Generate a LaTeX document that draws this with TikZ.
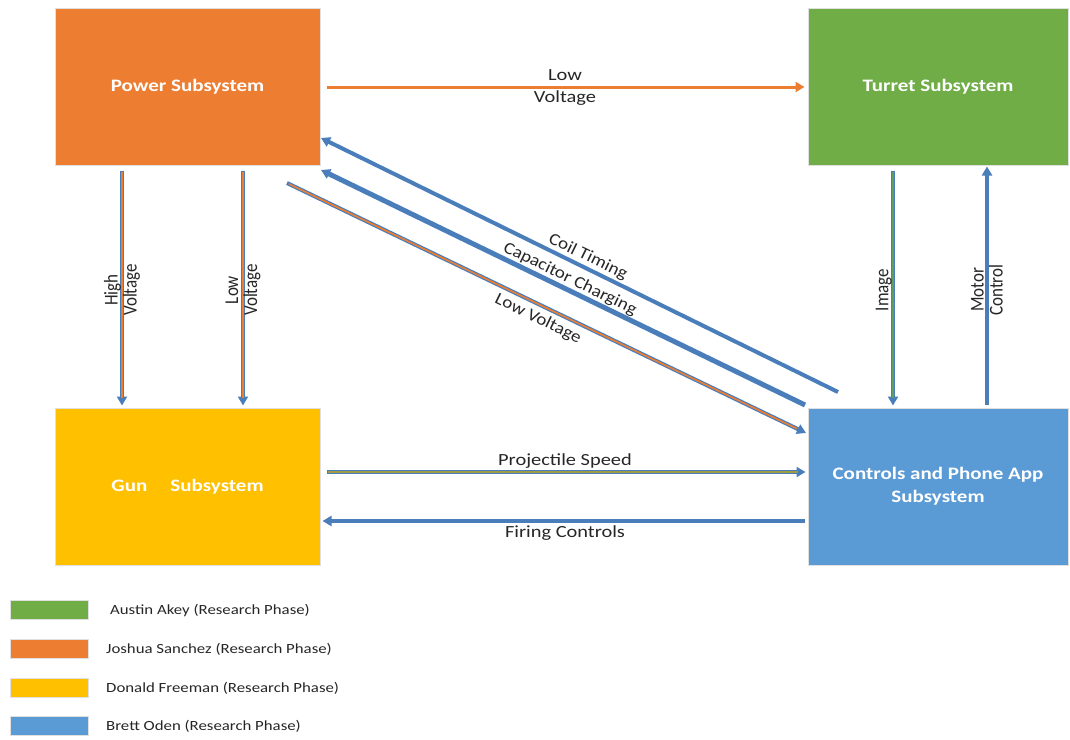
\documentclass[tikz,border=0pt]{standalone}
\usepackage{fontspec}
\setmainfont{Carlito}
\usetikzlibrary{arrows.meta,calc}
\definecolor{cOrange}{HTML}{ED7D31}
\definecolor{cGreen}{HTML}{70AD47}
\definecolor{cYellow}{HTML}{FFC000}
\definecolor{cBlue}{HTML}{5B9BD5}
\definecolor{lBlue}{HTML}{4A7EBB}
\definecolor{lOlive}{HTML}{A09A40}
\definecolor{lGreen}{HTML}{5E9E5E}
\definecolor{txt}{HTML}{262626}
\newcommand{\hst}[1]{\scalebox{1.2}[1]{#1}}
\newcommand{\dst}[1]{\scalebox{1.12}[1]{#1}}
\newcommand{\vst}[1]{\scalebox{1}[1.15]{#1}}
\tikzset{
  sub/.style={draw=black!12, line width=1pt, minimum width=265pt, minimum height=157pt, text=white, font=\fontsize{17.5}{23}\selectfont\bfseries, align=center, inner sep=0pt},
  lab/.style={text=txt, font=\fontsize{17}{19}\selectfont, align=center, inner sep=1pt},
  leg/.style={text=txt, font=\fontsize{14}{16}\selectfont, anchor=west, inner sep=0pt},
  swatch/.style={draw=black!12, line width=0.8pt, minimum width=78pt, minimum height=19pt, inner sep=0pt},
  bl/.style={draw=lBlue, line width=4pt, -{Triangle[length=9pt,width=10pt]}},
  inner/.style={line width=1.6pt},
}
\begin{document}
\begin{tikzpicture}[x=1pt,y=-1pt]
\useasboundingbox (0,0) rectangle (1070,739);
% boxes
\node[sub, fill=cOrange] (power) at (187.5,86.5) {\hst{Power Subsystem}};
\node[sub, fill=cGreen, minimum width=260pt] (turret) at (938,86.5) {\hst{Turret Subsystem}};
\node[sub, fill=cYellow] (gun) at (187.5,486.5) {\hst{Gun\hspace{1.1em}Subsystem}};
\node[sub, fill=cBlue, minimum width=260pt] (ctrl) at (938,486.5) {\hst{Controls and Phone App}\\\hst{Subsystem}};

% top: Power -> Turret
\draw[draw=cOrange, line width=3pt, -{Triangle[length=9pt,width=10pt]}, shorten <=6pt, shorten >=3pt]
  (power.east |- 0,87) -- (turret.west |- 0,87);
\node[lab] at (565,75) {\hst{Low}};
\node[lab] at (565,98) {\hst{Voltage}};

% vertical connectors
\coordinate (xhv) at (122,0);
\coordinate (xlv) at (243,0);
\coordinate (xim) at (893,0);
\coordinate (xmc) at (987,0);
\draw[bl, shorten <=5pt, shorten >=2pt] (power.south -| xhv) -- (gun.north -| xhv);
\draw[draw=cOrange, inner, shorten <=6pt, shorten >=10pt] (power.south -| xhv) -- (gun.north -| xhv);
\draw[bl, shorten <=5pt, shorten >=2pt] (power.south -| xlv) -- (gun.north -| xlv);
\draw[draw=cOrange, inner, shorten <=6pt, shorten >=10pt] (power.south -| xlv) -- (gun.north -| xlv);
\draw[bl, shorten <=5pt, shorten >=2pt] (turret.south -| xim) -- (ctrl.north -| xim);
\draw[draw=lGreen, inner, shorten <=6pt, shorten >=10pt] (turret.south -| xim) -- (ctrl.north -| xim);
\draw[bl, line width=4.5pt, shorten <=3pt, shorten >=1pt] (ctrl.north -| xmc) -- (turret.south -| xmc);

\node[lab, rotate=90] at (122,290) {\vst{High}\\\vst{Voltage}};
\node[lab, rotate=90] at (243,290) {\vst{Low}\\\vst{Voltage}};
\node[lab, rotate=90, anchor=south] at (893,290) {\vst{Image}};
\node[lab, rotate=90] at (987,290) {\vst{Motor}\\\vst{Control}};

% diagonal connectors
\coordinate (ct1) at (838,392);
\coordinate (ct2) at (321,138);
\coordinate (cc1) at (805,405);
\coordinate (cc2) at (321,170);
\coordinate (lv1) at (287,183);
\coordinate (lv2) at (806,433);
\draw[bl] (ct1) -- (ct2);
\draw[bl, line width=5pt] (cc1) -- (cc2);
\draw[bl, line width=4pt] (lv1) -- (lv2);
\draw[draw=cOrange, inner] ($(lv1)!2pt!(lv2)$) -- ($(lv2)!10pt!(lv1)$);
\node[lab, rotate=-26] at (588,257) {\dst{Coil Timing}};
\node[lab, rotate=-26] at (570,279) {\dst{Capacitor Charging}};
\node[lab, rotate=-26] at (538,319) {\dst{Low Voltage}};

% bottom horizontal connectors
\coordinate (yps) at (0,472);
\coordinate (yfc) at (0,521);
\draw[bl, shorten <=6pt, shorten >=2pt] (gun.east |- yps) -- (ctrl.west |- yps);
\draw[draw=lOlive, inner, shorten <=7pt, shorten >=10pt] (gun.east |- yps) -- (ctrl.west |- yps);
\node[lab] at (565,461) {\hst{Projectile Speed}};
\draw[bl, shorten <=3pt, shorten >=2pt] (ctrl.west |- yfc) -- (gun.east |- yfc);
\node[lab] at (565,533) {\hst{Firing Controls}};

% legend
\node[swatch, fill=cGreen] (s1) at (49,610) {};
\node[swatch, fill=cOrange] (s2) at (49,649) {};
\node[swatch, fill=cYellow] (s3) at (49,688) {};
\node[swatch, fill=cBlue] (s4) at (49,726) {};
\node[leg] (t1) at (110,610) {\hst{Austin Akey (Research Phase)}};
\node[leg] (t2) at (106,649) {\hst{Joshua Sanchez (Research Phase)}};
\node[leg] (t3) at (106,688) {\hst{Donald Freeman (Research Phase)}};
\node[leg] (t4) at (106,726) {\hst{Brett Oden (Research Phase)}};
\end{tikzpicture}
\end{document}
